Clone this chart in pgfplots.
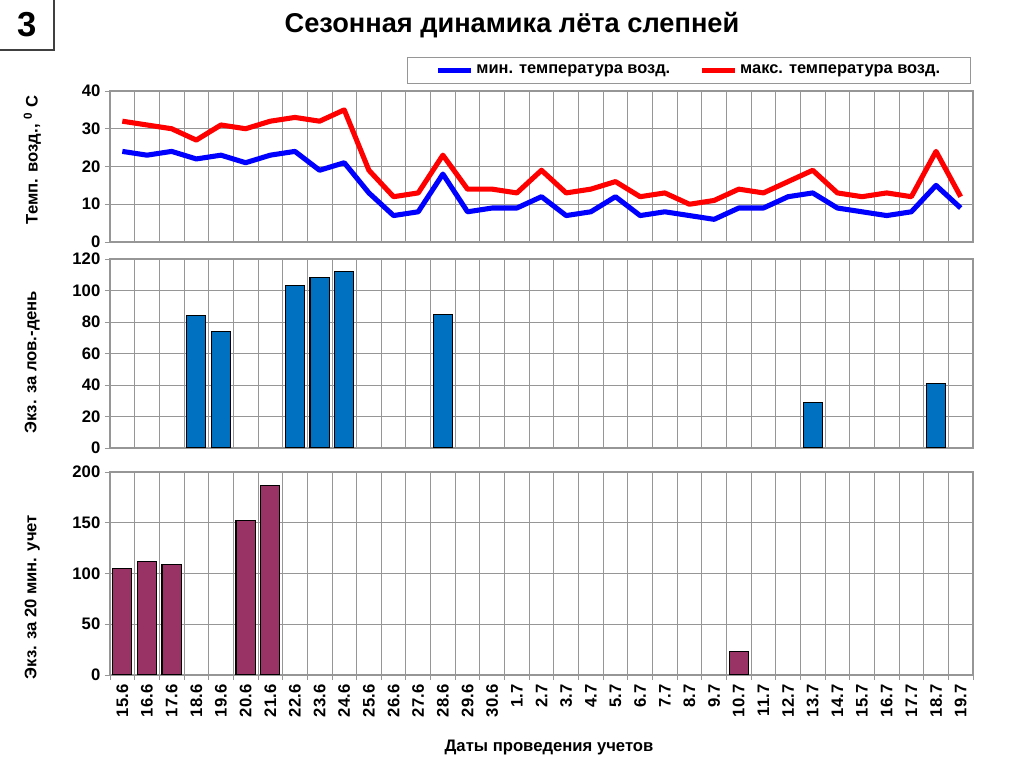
\documentclass[border=0pt]{standalone}
\usepackage{fontspec}
\setmainfont{Liberation Sans}
\usepackage{pgfplots}
\pgfplotsset{compat=1.18}
\usepackage{pgfplotstable}

\definecolor{minT}{RGB}{0,0,255}
\definecolor{maxT}{RGB}{255,0,0}
\definecolor{barblue}{RGB}{0,112,192}
\definecolor{barplum}{RGB}{153,51,102}
\definecolor{gridgray}{RGB}{150,150,150}

% air temperature, index 0 = 15.6 ... 34 = 19.7
\pgfplotstableread{
idx mn mx
0  24 32
1  23 31
2  24 30
3  22 27
4  23 31
5  21 30
6  23 32
7  24 33
8  19 32
9  21 35
10 13 19
11 7  12
12 8  13
13 18 23
14 8  14
15 9  14
16 9  13
17 12 19
18 7  13
19 8  14
20 12 16
21 7  12
22 8  13
23 7  10
24 6  11
25 9  14
26 9  13
27 12 16
28 13 19
29 9  13
30 8  12
31 7  13
32 8  12
33 15 24
34 9  12
}\temps

\newcommand{\tickfont}{\bfseries\fontsize{12.5}{14}\selectfont}
\newcommand{\labfont}{\bfseries\fontsize{12.5}{14}\selectfont}

\pgfplotsset{
  panel/.style={
    scale only axis, width=647.25pt,
    xmin=-0.5, xmax=34.5,
    xtick={-0.5,0.5,...,34.5},
    xmajorgrids, ymajorgrids,
    grid style={gridgray, line width=0.6pt},
    axis line style={gridgray, line width=0.8pt},
    tick align=outside, tick pos=left,
    major tick length=3.75pt,
    tick style={gridgray, line width=0.6pt},
    tick label style={font=\tickfont},
    /pgf/number format/assume math mode=true,
  }
}

\begin{document}
\begin{tikzpicture}
\path[use as bounding box] (0,0) rectangle (768pt,575.25pt);

% slide number box
\draw[line width=1.5pt, black!75] (0pt,537.75pt) -- (40.5pt,537.75pt) -- (40.5pt,575.25pt);
\node[anchor=base, font=\bfseries\fontsize{26}{30}\selectfont] at (20pt,547.5pt) {3};

% title
\node[anchor=base, font=\bfseries\fontsize{20.4}{24}\selectfont] at (384pt,550.5pt)
  {Сезонная динамика лёта слепней};

% air temperature
\begin{axis}[panel,
  at={(82.5pt,393.75pt)}, anchor=south west, height=113.25pt,
  ymin=0, ymax=40, ytick={0,10,...,40},
  xticklabels={}, xtick style={draw=none},
  ylabel={Темп. возд., \textsuperscript{0} С},
  every axis y label/.style={at={(axis description cs:-0.09,0.543)}, rotate=90, anchor=center, font=\labfont},
  legend columns=2,
  legend style={at={(axis description cs:0.998,1.225)}, anchor=north east,
    draw=gridgray, line width=0.8pt, font=\bfseries\fontsize{12.3}{14}\selectfont,
    inner xsep=21pt, inner ysep=3.5pt,
    /tikz/every even column/.append style={column sep=20pt}},
  legend image code/.code={\draw[#1, line width=3.5pt] (0pt,0pt) -- (25pt,0pt);},
]
\addplot[minT, line width=3.8pt, line join=round] table[x=idx, y=mn]{\temps};
\addlegendentry{мин. температура возд.}
\addplot[maxT, line width=3.8pt, line join=round] table[x=idx, y=mx]{\temps};
\addlegendentry{макс. температура возд.}
\end{axis}

% catches per trap-day
\begin{axis}[panel,
  at={(82.5pt,239.25pt)}, anchor=south west, height=141.75pt,
  ymin=0, ymax=120, ytick={0,20,...,120},
  xticklabels={}, xtick style={draw=none},
  ylabel={Экз. за лов.-день},
  every axis y label/.style={at={(axis description cs:-0.09,0.455)}, rotate=90, anchor=center, font=\labfont},
]
\addplot[ybar, bar width=0.78, bar shift=0pt, fill=barblue, draw=black, line width=0.8pt]
  coordinates {(3,84) (4,74) (7,103) (8,108) (9,112) (13,85) (28,29) (33,41)};
\end{axis}

% catches per 20-minute count
\begin{axis}[panel,
  at={(82.5pt,69pt)}, anchor=south west, height=152.25pt,
  ymin=0, ymax=200, ytick={0,50,...,200},
  x tick label as interval,
  xticklabels={15.6,16.6,17.6,18.6,19.6,20.6,21.6,22.6,23.6,24.6,25.6,26.6,27.6,28.6,29.6,30.6,
    1.7,2.7,3.7,4.7,5.7,6.7,7.7,8.7,9.7,10.7,11.7,12.7,13.7,14.7,15.7,16.7,17.7,18.7,19.7},
  xticklabel style={rotate=90, anchor=east},
  ylabel={Экз. за 20 мин. учет},
  every axis y label/.style={at={(axis description cs:-0.09,0.384)}, rotate=90, anchor=center, font=\labfont},
  xlabel={Даты проведения учетов},
  every axis x label/.style={at={(axis description cs:0.5087,-0.379)}, anchor=base, font=\labfont},
]
\addplot[ybar, bar width=0.78, bar shift=0pt, fill=barplum, draw=black, line width=0.8pt]
  coordinates {(0,105) (1,112) (2,109) (5,152) (6,187) (25,23)};
\end{axis}
\end{tikzpicture}
\end{document}
